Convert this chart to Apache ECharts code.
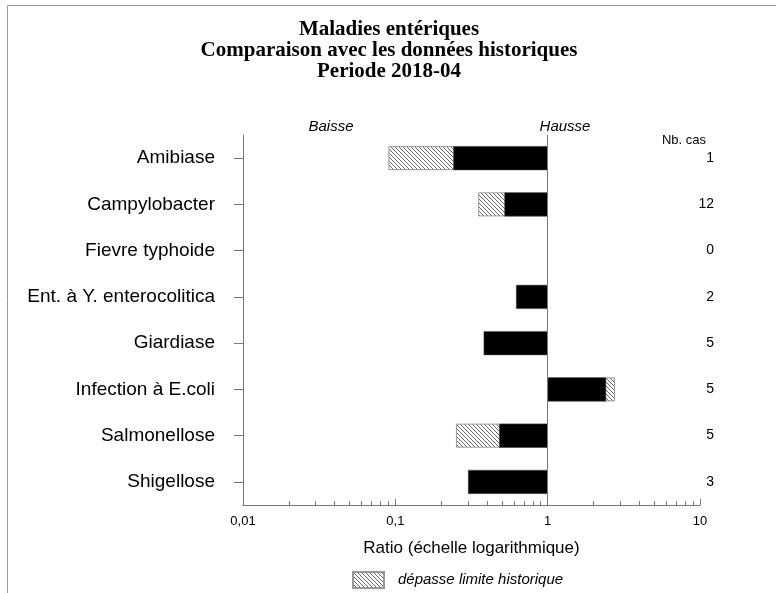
<!DOCTYPE html>
<html>
<head>
<meta charset="utf-8">
<script src="https://cdn.jsdelivr.net/npm/echarts@6/dist/echarts.min.js"></script>
<style>
    html, body { margin: 0; padding: 0; background: #fff; }
    #chart { width: 776px; height: 593px; }
</style>
</head>
<body>
<div id="chart"></div>
<script>
var categories = ["Amibiase", "Campylobacter", "Fievre typhoide", "Ent. à Y. enterocolitica",
    "Giardiase", "Infection à E.coli", "Salmonellose", "Shigellose"];
// ratio observe (barre noire)
var ratio = [0.24, 0.52, null, 0.62, 0.38, 2.42, 0.48, 0.30];
// extremite de la partie hachuree (depasse limite historique)
var limite = [0.09, 0.35, null, null, null, 2.77, 0.25, null];
var nbCas = [1, 12, 0, 2, 5, 5, 5, 3];
var minorTicks = [0.02, 0.03, 0.04, 0.05, 0.06, 0.07, 0.08, 0.09,
    0.2, 0.3, 0.4, 0.5, 0.6, 0.7, 0.8, 0.9,
    2, 3, 4, 5, 6, 7, 8, 9];

function hatch() {
    var c = document.createElement("canvas");
    c.width = 4;
    c.height = 4;
    var ctx = c.getContext("2d");
    ctx.fillStyle = "#ffffff";
    ctx.fillRect(0, 0, 4, 4);
    ctx.fillStyle = "#666666";
    for (var i = 0; i < 4; i++) {
        ctx.fillRect(i, i, 1, 1);
    }
    return c;
}

var sans = "Liberation Sans";
var hatchFill = { image: hatch(), repeat: "repeat" };

var chart = echarts.init(document.getElementById("chart"));
chart.setOption({
    animation: false,
    backgroundColor: "#fff",
    title: {
        text: "Maladies entériques\nComparaison avec les données historiques\nPeriode 2018-04",
        left: 384,
        textAlign: "center",
        top: 14,
        textStyle: {
            fontFamily: "Liberation Serif",
            fontWeight: "bold",
            fontSize: 21,
            lineHeight: 21,
            color: "#000",
        },
    },
    legend: {
        data: ["dépasse limite historique"],
        left: 347,
        top: 566,
        itemWidth: 31,
        itemHeight: 16,
        icon: "rect",
        textStyle: {
            fontFamily: sans,
            fontStyle: "italic",
            fontSize: 15,
            color: "#000",
            padding: [0, 0, 0, 9],
        },
    },
    grid: {
        left: 243,
        right: 76,
        top: 135,
        bottom: 88,
    },
    xAxis: [
        {
            type: "log",
            logBase: 10,
            min: 0.01,
            max: 10,
            position: "bottom",
            axisLine: { show: true, onZero: false, lineStyle: { color: "#777" } },
            axisTick: { show: true, inside: true, length: 6, lineStyle: { color: "#777" } },
            splitLine: { show: false },
            axisLabel: {
                color: "#000",
                fontFamily: sans,
                fontSize: 13,
                margin: 10,
                formatter: function (v) {
                    return String(v).replace(".", ",");
                },
            },
            name: "Ratio (échelle logarithmique)",
            nameLocation: "middle",
            nameGap: 35,
            nameTextStyle: { color: "#000", fontFamily: sans, fontSize: 17 },
        },
        {
            // axe auxiliaire pour les petites graduations
            type: "value",
            min: -2,
            max: 1,
            position: "bottom",
            axisLine: { show: false, onZero: false },
            axisLabel: { show: false },
            splitLine: { show: false },
            axisTick: {
                show: true,
                inside: true,
                length: 4,
                lineStyle: { color: "#777" },
                customValues: minorTicks.map(function (v) {
                    return Math.log10(v);
                }),
            },
        },
    ],
    yAxis: [
        {
            type: "category",
            data: categories,
            inverse: true,
            position: "left",
            axisLine: { show: true, onZero: false, lineStyle: { color: "#777" } },
            axisTick: { show: true, alignWithLabel: true, length: 9, lineStyle: { color: "#777" } },
            axisLabel: {
                color: "#000",
                fontFamily: sans,
                fontSize: 19,
                margin: 28,
            },
        },
        {
            type: "category",
            data: nbCas.map(String),
            inverse: true,
            position: "right",
            axisLine: { show: false, onZero: false },
            axisTick: { show: false },
            axisLabel: {
                color: "#000",
                fontFamily: sans,
                fontSize: 14,
                align: "right",
                margin: 14,
            },
        },
    ],
    series: [
        {
            name: "dépasse limite historique",
            type: "bar",
            barWidth: 24,
            barGap: "-100%",
            data: limite.map(function (v) { return v === null ? "-" : v; }),
            itemStyle: { color: hatchFill, borderColor: "#999", borderWidth: 1 },
        },
        {
            name: "ratio",
            type: "bar",
            barWidth: 24,
            barGap: "-100%",
            data: ratio.map(function (v) { return v === null ? "-" : v; }),
            itemStyle: { color: "#000", borderColor: "#555", borderWidth: 0.5 },
            markLine: {
                silent: true,
                symbol: "none",
                label: { show: false },
                lineStyle: { color: "#777", type: "solid", width: 1 },
                data: [{ xAxis: 1 }],
            },
        },
    ],
    graphic: [
        {
            type: "rect",
            shape: { x: 7.5, y: 5.5, width: 900, height: 700 },
            style: { fill: "none", stroke: "#999", lineWidth: 1 },
            silent: true,
        },
        {
            type: "text",
            x: 331,
            y: 127,
            style: {
                text: "Baisse",
                font: "italic 15px Liberation Sans",
                fill: "#000",
                align: "center",
                verticalAlign: "middle",
            },
        },
        {
            type: "text",
            x: 565,
            y: 127,
            style: {
                text: "Hausse",
                font: "italic 15px Liberation Sans",
                fill: "#000",
                align: "center",
                verticalAlign: "middle",
            },
        },
        {
            type: "text",
            x: 706,
            y: 140,
            style: {
                text: "Nb. cas",
                font: "13px Liberation Sans",
                fill: "#000",
                align: "right",
                verticalAlign: "middle",
            },
        },
    ],
});
</script>
</body>
</html>
